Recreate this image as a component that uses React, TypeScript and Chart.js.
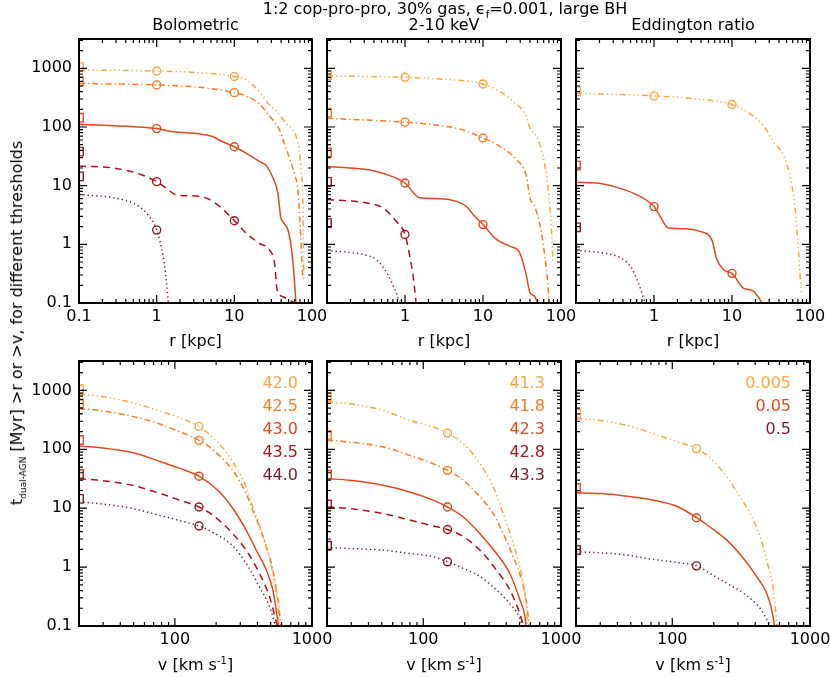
import React, { useEffect, useRef } from "react";
import { Chart, registerables } from "chart.js";

Chart.register(...registerables);

type Pt = [number, number];

// ---------------- axis ranges & tick labels ----------------
const R_MIN = 0.1;
const R_MAX = 100;
const V_MIN = 20;
const V_MAX = 1000;
const Y_MIN = 0.1;
const Y_MAX = 3162.3;
const Y_TICKS = [0.1, 1, 10, 100, 1000];
const R_TICKS_LEFT = [0.1, 1, 10, 100];
const R_TICKS = [1, 10, 100];
const V_TICKS = [100, 1000];

// ---------------- text ----------------
const PANEL_TITLES = ["Bolometric", "2-10 keV", "Eddington ratio"];
const LEGEND_BOL = ["42.0", "42.5", "43.0", "43.5", "44.0"];
const LEGEND_HX = ["41.3", "41.8", "42.3", "42.8", "43.3"];
const LEGEND_EDD = ["0.005", "0.05", "0.5"];

// ---------------- Bolometric, t(>r) ----------------
const BOL_R_420: Pt[] = [[0.1, 930], [0.3, 925], [1, 900], [3.6, 840], [10, 725], [14.3, 633], [21, 400], [28.4, 237], [36.4, 175], [46.6, 115], [56.7, 89], [65.8, 53], [72.6, 18.5], [76.3, 5], [78.5, 0.25]];
const BOL_R_425: Pt[] = [[0.1, 555], [1, 520], [3.6, 474], [10, 385], [14.3, 337], [21, 247], [28.4, 154], [38.2, 89], [42.4, 60], [51.5, 29], [59.5, 16], [65.8, 8.4], [71, 1.75], [76, 0.26]];
const BOL_R_430: Pt[] = [[0.1, 111], [0.5, 101], [1, 94], [1.63, 83], [3.6, 76], [5.3, 68], [7.1, 56], [10, 46], [14.3, 35.5], [21, 26], [26, 21.6], [31, 14.2], [36.4, 7.4], [39.5, 2.95], [43, 2.34], [49, 1.75], [54, 0.91], [58, 0.36], [62.5, 0.09]];
const BOL_R_435: Pt[] = [[0.1, 21.6], [0.3, 19.7], [0.6, 15.8], [1, 11.7], [1.34, 9.0], [1.8, 6.9], [2.9, 6.7], [4.4, 6.1], [6.5, 4.4], [10, 2.53], [14.3, 1.54], [21, 1.04], [28.4, 0.8], [33, 0.47], [35.6, 0.166], [42.4, 0.128], [56, 0.105], [62.5, 0.095]];
const BOL_R_440: Pt[] = [[0.1, 7.1], [0.3, 6.1], [0.5, 5.0], [0.74, 3.4], [1, 1.75], [1.21, 0.62], [1.34, 0.22], [1.42, 0.09]];
const BOL_R_MARK_420: Pt[] = [[1, 900], [10, 725]];
const BOL_R_MARK_425: Pt[] = [[1, 520], [10, 385]];
const BOL_R_MARK_430: Pt[] = [[1, 94], [10, 46]];
const BOL_R_MARK_435: Pt[] = [[1, 11.7], [10, 2.53]];
const BOL_R_MARK_440: Pt[] = [[1, 1.75]];
const BOL_TOTALS = [1050, 600, 144, 38, 14.4];

// ---------------- 2-10 keV, t(>r) ----------------
const HX_R_413: Pt[] = [[0.1, 740], [1, 703], [3.08, 650], [10, 542], [16.6, 400], [24.4, 271], [36, 151], [40, 95], [48.5, 69], [59, 31.6], [68.6, 8.6], [75.5, 1.78], [79, 0.49]];
const HX_R_418: Pt[] = [[0.1, 141], [1, 121], [2.3, 109], [5.1, 92], [10, 65], [16.6, 46.5], [27, 27.6], [36, 14.5], [40, 6.2], [46, 4.45], [54, 2.05], [62, 0.63], [68.6, 0.17], [70.5, 0.09]];
const HX_R_423: Pt[] = [[0.1, 21.3], [0.43, 17.5], [1, 11.1], [1.54, 6.2], [2.8, 6.0], [4.6, 5.4], [6.1, 4.45], [7.5, 3.2], [10, 2.17], [15, 1.2], [22, 0.93], [29.5, 0.72], [36, 0.29], [40, 0.15], [46, 0.13], [50, 0.095]];
const HX_R_428: Pt[] = [[0.1, 5.8], [0.32, 5.07], [0.52, 4.17], [0.77, 2.48], [1, 1.47], [1.15, 0.63], [1.27, 0.29], [1.4, 0.09]];
const HX_R_433: Pt[] = [[0.1, 0.79], [0.32, 0.65], [0.43, 0.55], [0.58, 0.33], [0.77, 0.15], [0.86, 0.1]];
const HX_R_MARK_413: Pt[] = [[1, 703], [10, 542]];
const HX_R_MARK_418: Pt[] = [[1, 121], [10, 65]];
const HX_R_MARK_423: Pt[] = [[1, 11.1], [10, 2.17]];
const HX_R_MARK_428: Pt[] = [[1, 1.47]];
const HX_R_MARK_433: Pt[] = [];
const HX_TOTALS = [770, 176, 37, 11.6, 2.3];

// ---------------- Eddington ratio, t(>r) ----------------
const EDD_R_0005: Pt[] = [[0.1, 377], [1, 339], [3.2, 302], [10, 242], [17, 168], [25, 107], [34, 56], [45.6, 33], [55.6, 14.2], [64, 4.4], [70, 1.05], [76, 0.22], [78, 0.15]];
const EDD_R_005: Pt[] = [[0.1, 11.4], [0.205, 10.9], [0.37, 9.0], [0.55, 7.4], [1, 4.4], [1.2, 3.0], [1.53, 1.89], [2.4, 1.85], [3.9, 1.66], [5.5, 1.2], [6.4, 0.55], [7.8, 0.37], [10, 0.32], [14, 0.18], [18.8, 0.16], [25, 0.095]];
const EDD_R_05: Pt[] = [[0.1, 0.79], [0.226, 0.71], [0.37, 0.59], [0.5, 0.42], [0.63, 0.22], [0.77, 0.1]];
const EDD_R_MARK_0005: Pt[] = [[1, 339], [10, 242]];
const EDD_R_MARK_005: Pt[] = [[1, 4.4], [10, 0.32]];
const EDD_R_MARK_05: Pt[] = [];
const EDD_TOTALS = [405, 22, 1.95];

// ---------------- Bolometric, t(>v) ----------------
const BOL_V_420: Pt[] = [[20, 850], [27.9, 802], [49, 620], [76.8, 450], [107.6, 345], [150, 245], [189, 160], [236, 90], [264, 62], [331, 23], [370, 10.5], [414, 5.15], [465, 2.2], [518, 0.78], [565, 0.21], [580, 0.09]];
const BOL_V_425: Pt[] = [[20, 490], [27.9, 458], [49, 363], [76.8, 272], [107.6, 200], [150, 142], [189, 99], [264, 44], [331, 17.7], [370, 9.25], [414, 4.83], [465, 2.2], [518, 0.89], [565, 0.275], [596, 0.09]];
const BOL_V_430: Pt[] = [[20, 114], [27.9, 107], [49, 88], [76.8, 63], [107.6, 48], [150, 35], [211, 19], [264, 10], [331, 4.24], [392, 1.94], [465, 0.89], [518, 0.41], [575, 0.09]];
const BOL_V_435: Pt[] = [[20, 31.8], [27.9, 29.8], [49, 24.5], [76.8, 18], [107.6, 13.8], [150, 10.5], [189, 7.6], [264, 3.72], [331, 1.94], [414, 0.78], [491, 0.31], [565, 0.09]];
const BOL_V_440: Pt[] = [[20, 12.8], [27.9, 12], [49, 9.9], [76.8, 7.6], [107.6, 6.2], [150, 5.0], [189, 3.9], [264, 2.3], [331, 1.15], [414, 0.46], [491, 0.21], [550, 0.09]];
const BOL_V_MARK_420: Pt[] = [[150, 245]];
const BOL_V_MARK_425: Pt[] = [[150, 142]];
const BOL_V_MARK_430: Pt[] = [[150, 35]];
const BOL_V_MARK_435: Pt[] = [[150, 10.5]];
const BOL_V_MARK_440: Pt[] = [[150, 5.0]];

// ---------------- 2-10 keV, t(>v) ----------------
const HX_V_413: Pt[] = [[20, 634], [29.2, 594], [51, 458], [79.8, 310], [118, 239], [150, 189], [195, 125], [258, 57], [322, 23], [381, 8.1], [450, 2.5], [503, 1.0], [547, 0.36], [578, 0.09]];
const HX_V_418: Pt[] = [[20, 142], [29.2, 133], [51, 110], [79.8, 79], [118, 57], [150, 44], [195, 30], [258, 15.6], [322, 8.1], [381, 3.7], [450, 1.5], [518, 0.6], [563, 0.24], [590, 0.09]];
const HX_V_423: Pt[] = [[20, 31.8], [29.2, 29.8], [51, 24.5], [79.8, 18.9], [118, 13.7], [150, 10.5], [195, 7.1], [258, 3.7], [340, 1.7], [425, 0.78], [503, 0.28], [547, 0.145], [560, 0.09]];
const HX_V_428: Pt[] = [[20, 10.5], [29.2, 9.9], [51, 8.1], [79.8, 6.3], [118, 5.0], [150, 4.35], [195, 3.3], [258, 1.94], [340, 0.89], [425, 0.41], [503, 0.16], [540, 0.09]];
const HX_V_433: Pt[] = [[20, 2.15], [29.2, 2.07], [51, 1.94], [79.8, 1.7], [118, 1.5], [150, 1.23], [195, 0.95], [258, 0.69], [340, 0.41], [425, 0.24], [503, 0.135], [530, 0.09]];
const HX_V_MARK_413: Pt[] = [[150, 189]];
const HX_V_MARK_418: Pt[] = [[150, 44]];
const HX_V_MARK_423: Pt[] = [[150, 10.5]];
const HX_V_MARK_428: Pt[] = [[150, 4.35]];
const HX_V_MARK_433: Pt[] = [[150, 1.23]];

// ---------------- Eddington ratio, t(>v) ----------------
const EDD_V_0005: Pt[] = [[20, 331], [30, 310], [46.9, 255], [73, 185], [108, 135], [150, 103], [188, 72], [249, 34], [311, 15.6], [367, 8.1], [434, 3.3], [485, 1.3], [542, 0.41], [580, 0.09]];
const EDD_V_005: Pt[] = [[20, 18.4], [30, 17.7], [46.9, 16], [73, 13.7], [108, 10.8], [150, 6.9], [188, 4.8], [249, 2.87], [329, 1.4], [410, 0.69], [485, 0.36], [527, 0.19], [557, 0.09]];
const EDD_V_05: Pt[] = [[20, 1.82], [30, 1.75], [46.9, 1.6], [73, 1.35], [108, 1.2], [150, 1.05], [188, 0.78], [249, 0.53], [329, 0.36], [434, 0.2], [527, 0.09]];
const EDD_V_MARK_0005: Pt[] = [[150, 103]];
const EDD_V_MARK_005: Pt[] = [[150, 6.9]];
const EDD_V_MARK_05: Pt[] = [[150, 1.05]];

// ---------------- styles ----------------
const COLORS = ["#FFA640", "#FF7B1E", "#E2491C", "#B2121C", "#7E1B25"];
const DASHES: number[][] = [
  [6, 3, 1.3, 3, 1.3, 3, 1.3, 3],
  [6, 3, 1.3, 3],
  [],
  [7, 5],
  [1.3, 3],
];
const FONT = "DejaVu Sans";

// ---------------- layout ----------------
const COL_LEFT = [79, 327, 576];
const COL_W = [233, 234, 234];
const ROW_TOP = [39, 361];
const ROW_H = [264, 265];
const YW = 79;
const PT = 24;
const PR = 30;
const XH = 50;

interface CurveSpec { line: Pt[]; marks: Pt[]; level: number }
interface PanelSpec {
  col: number;
  row: number;
  xMin: number;
  xMax: number;
  xTicks: number[];
  showY: boolean;
  curves: CurveSpec[];
  totals: number[];
  levels: number[];
}

const LV5 = [0, 1, 2, 3, 4];
const LV3 = [0, 2, 4];
const mk = (lines: Pt[][], marks: Pt[][], levels: number[]): CurveSpec[] =>
  lines.map((l, i) => ({ line: l, marks: marks[i], level: levels[i] }));

const PANELS: PanelSpec[] = [
  { col: 0, row: 0, xMin: R_MIN, xMax: R_MAX, xTicks: R_TICKS_LEFT, showY: true, levels: LV5, totals: BOL_TOTALS,
    curves: mk([BOL_R_420, BOL_R_425, BOL_R_430, BOL_R_435, BOL_R_440], [BOL_R_MARK_420, BOL_R_MARK_425, BOL_R_MARK_430, BOL_R_MARK_435, BOL_R_MARK_440], LV5) },
  { col: 1, row: 0, xMin: R_MIN, xMax: R_MAX, xTicks: R_TICKS, showY: false, levels: LV5, totals: HX_TOTALS,
    curves: mk([HX_R_413, HX_R_418, HX_R_423, HX_R_428, HX_R_433], [HX_R_MARK_413, HX_R_MARK_418, HX_R_MARK_423, HX_R_MARK_428, HX_R_MARK_433], LV5) },
  { col: 2, row: 0, xMin: R_MIN, xMax: R_MAX, xTicks: R_TICKS, showY: false, levels: LV3, totals: EDD_TOTALS,
    curves: mk([EDD_R_0005, EDD_R_005, EDD_R_05], [EDD_R_MARK_0005, EDD_R_MARK_005, EDD_R_MARK_05], LV3) },
  { col: 0, row: 1, xMin: V_MIN, xMax: V_MAX, xTicks: V_TICKS, showY: true, levels: LV5, totals: BOL_TOTALS,
    curves: mk([BOL_V_420, BOL_V_425, BOL_V_430, BOL_V_435, BOL_V_440], [BOL_V_MARK_420, BOL_V_MARK_425, BOL_V_MARK_430, BOL_V_MARK_435, BOL_V_MARK_440], LV5) },
  { col: 1, row: 1, xMin: V_MIN, xMax: V_MAX, xTicks: V_TICKS, showY: false, levels: LV5, totals: HX_TOTALS,
    curves: mk([HX_V_413, HX_V_418, HX_V_423, HX_V_428, HX_V_433], [HX_V_MARK_413, HX_V_MARK_418, HX_V_MARK_423, HX_V_MARK_428, HX_V_MARK_433], LV5) },
  { col: 2, row: 1, xMin: V_MIN, xMax: V_MAX, xTicks: V_TICKS, showY: false, levels: LV3, totals: EDD_TOTALS,
    curves: mk([EDD_V_0005, EDD_V_005, EDD_V_05], [EDD_V_MARK_0005, EDD_V_MARK_005, EDD_V_MARK_05], LV3) },
];

// frame with inward major/minor ticks on all four sides (IDL style)
const framePlugin = {
  id: "idlFrame",
  afterDraw(chart: any) {
    const { ctx, chartArea } = chart;
    const { left, right, top, bottom } = chartArea;
    const xs = chart.scales.x;
    const ys = chart.scales.y;
    ctx.save();
    ctx.strokeStyle = "#000";
    ctx.lineWidth = 1.2;
    const decadeMarks = (lo: number, hi: number) => {
      const out: { v: number; major: boolean }[] = [];
      for (let d = Math.floor(Math.log10(lo)) - 1; d <= Math.ceil(Math.log10(hi)); d++) {
        for (let m = 1; m <= 9; m++) {
          const v = m * Math.pow(10, d);
          if (v > lo * 1.0001 && v < hi * 0.9999) out.push({ v, major: m === 1 });
        }
      }
      return out;
    };
    ctx.beginPath();
    for (const t of decadeMarks(xs.min, xs.max)) {
      const px = xs.getPixelForValue(t.v);
      const len = t.major ? 8 : 4;
      ctx.moveTo(px, bottom);
      ctx.lineTo(px, bottom - len);
      ctx.moveTo(px, top);
      ctx.lineTo(px, top + len);
    }
    for (const t of decadeMarks(ys.min, ys.max)) {
      const py = ys.getPixelForValue(t.v);
      const len = t.major ? 8 : 4;
      ctx.moveTo(left, py);
      ctx.lineTo(left + len, py);
      ctx.moveTo(right, py);
      ctx.lineTo(right - len, py);
    }
    ctx.stroke();
    ctx.lineWidth = 2;
    ctx.strokeRect(left, top, right - left, bottom - top);
    ctx.restore();
  },
};

function Panel({ spec }: { spec: PanelSpec }) {
  const ref = useRef<HTMLCanvasElement | null>(null);
  const left = COL_LEFT[spec.col];
  const top = ROW_TOP[spec.row];
  const w = COL_W[spec.col];
  const h = ROW_H[spec.row];
  const cw = YW + w + PR;
  const ch = PT + h + XH;

  useEffect(() => {
    if (!ref.current) return;
    const datasets: any[] = [];
    spec.curves.forEach((c) => {
      datasets.push({
        data: c.line.map(([x, y]) => ({ x, y })),
        borderColor: COLORS[c.level],
        borderWidth: 1.5,
        borderDash: DASHES[c.level],
        borderCapStyle: "butt",
        pointRadius: 0,
        fill: false,
        clip: 0,
        cubicInterpolationMode: "monotone",
      });
      datasets.push({
        data: c.marks.map(([x, y]) => ({ x, y })),
        showLine: false,
        pointStyle: "circle",
        pointRadius: 4,
        pointBorderWidth: 1.4,
        pointBorderColor: COLORS[c.level],
        pointBackgroundColor: "rgba(0,0,0,0)",
        borderColor: COLORS[c.level],
        clip: 0,
      });
    });
    spec.totals.forEach((v, i) => {
      datasets.push({
        data: [{ x: spec.xMin, y: v }],
        showLine: false,
        pointStyle: "rect",
        pointRadius: 6,
        pointBorderWidth: 1.4,
        pointBorderColor: COLORS[spec.levels[i]],
        pointBackgroundColor: "rgba(0,0,0,0)",
        borderColor: COLORS[spec.levels[i]],
        clip: 0,
      });
    });

    const tickFont = { family: FONT, size: 16 };
    const chart = new Chart(ref.current, {
      type: "line",
      data: { datasets },
      options: {
        animation: false,
        responsive: false,
        maintainAspectRatio: false,
        events: [],
        layout: { padding: { top: PT, right: PR, left: 0, bottom: 0 } },
        plugins: { legend: { display: false }, tooltip: { enabled: false } },
        scales: {
          x: {
            type: "logarithmic",
            position: "bottom",
            min: spec.xMin,
            max: spec.xMax,
            grid: { display: false, drawTicks: false },
            border: { display: false },
            afterBuildTicks: (s: any) => {
              s.ticks = spec.xTicks.map((v) => ({ value: v }));
            },
            afterFit: (s: any) => {
              s.height = XH;
            },
            ticks: {
              autoSkip: false,
              maxRotation: 0,
              minRotation: 0,
              padding: 4,
              color: "#000",
              font: tickFont,
              callback: (v: any) => String(v),
            },
          },
          y: {
            type: "logarithmic",
            position: "left",
            min: Y_MIN,
            max: Y_MAX,
            grid: { display: false, drawTicks: false },
            border: { display: false },
            afterBuildTicks: (s: any) => {
              s.ticks = Y_TICKS.map((v) => ({ value: v }));
            },
            afterFit: (s: any) => {
              s.width = YW;
            },
            ticks: {
              display: spec.showY,
              autoSkip: false,
              padding: 7,
              color: "#000",
              font: tickFont,
              callback: (v: any) => String(v),
            },
          },
        },
      } as any,
      plugins: [framePlugin],
    });
    return () => chart.destroy();
  }, []);

  return (
    <canvas
      ref={ref}
      width={cw}
      height={ch}
      style={{ position: "absolute", left: left - YW, top: top - PT, width: cw, height: ch }}
    />
  );
}

const txt = (x: number, y: number, content: React.ReactNode, extra: React.CSSProperties = {}, anchor = "-50%") => (
  <div
    style={{
      position: "absolute",
      left: x,
      top: y,
      transform: `translate(${anchor},-50%)`,
      whiteSpace: "nowrap",
      fontFamily: FONT,
      fontSize: 16,
      lineHeight: "16px",
      height: 16,
      color: "#000",
      ...extra,
    }}
  >
    {content}
  </div>
);

const subStyle: React.CSSProperties = { fontSize: 10, position: "relative", top: 4 };
const supStyle: React.CSSProperties = { fontSize: 10, position: "relative", top: -6 };

export default function App() {
  const legends = [LEGEND_BOL, LEGEND_HX, LEGEND_EDD];
  const legendRight = [298, 545, 791];
  const legendY0 = 383;
  const legendDy = 23;
  const centers = COL_LEFT.map((l, i) => l + COL_W[i] / 2);
  return (
    <div style={{ position: "absolute", left: 0, top: 0, width: 830, height: 677, background: "#fff", overflow: "hidden" }}>
      {PANELS.map((p, i) => (
        <Panel key={i} spec={p} />
      ))}
      {txt(445, 9, <span>1:2 cop-pro-pro, 30% gas, ϵ<span style={subStyle}>f</span>=0.001, large BH</span>)}
      {PANEL_TITLES.map((t, i) => <React.Fragment key={t}>{txt(centers[i], 25, t)}</React.Fragment>)}
      {centers.map((c, i) => <React.Fragment key={"r" + i}>{txt(c, 341, "r [kpc]")}</React.Fragment>)}
      {centers.map((c, i) => (
        <React.Fragment key={"v" + i}>
          {txt(c, 665, <span>v [km s<span style={supStyle}>-1</span>]</span>)}
        </React.Fragment>
      ))}
      {legends.map((lg, pi) =>
        lg.map((label, k) => (
          <React.Fragment key={pi + "-" + k}>
            {txt(legendRight[pi], legendY0 + k * legendDy, label, { color: COLORS[PANELS[pi + 3].levels[k]] }, "-100%")}
          </React.Fragment>
        ))
      )}
      <div
        style={{
          position: "absolute",
          left: 17,
          top: 323,
          transform: "translate(-50%,-50%) rotate(-90deg)",
          whiteSpace: "nowrap",
          fontFamily: FONT,
          fontSize: 16,
          lineHeight: "16px",
          height: 16,
          color: "#000",
        }}
      >
        t<span style={{ fontSize: 9, position: "relative", top: 4 }}>dual-AGN</span> [Myr] &gt;r or &gt;v, for different thresholds
      </div>
    </div>
  );
}
